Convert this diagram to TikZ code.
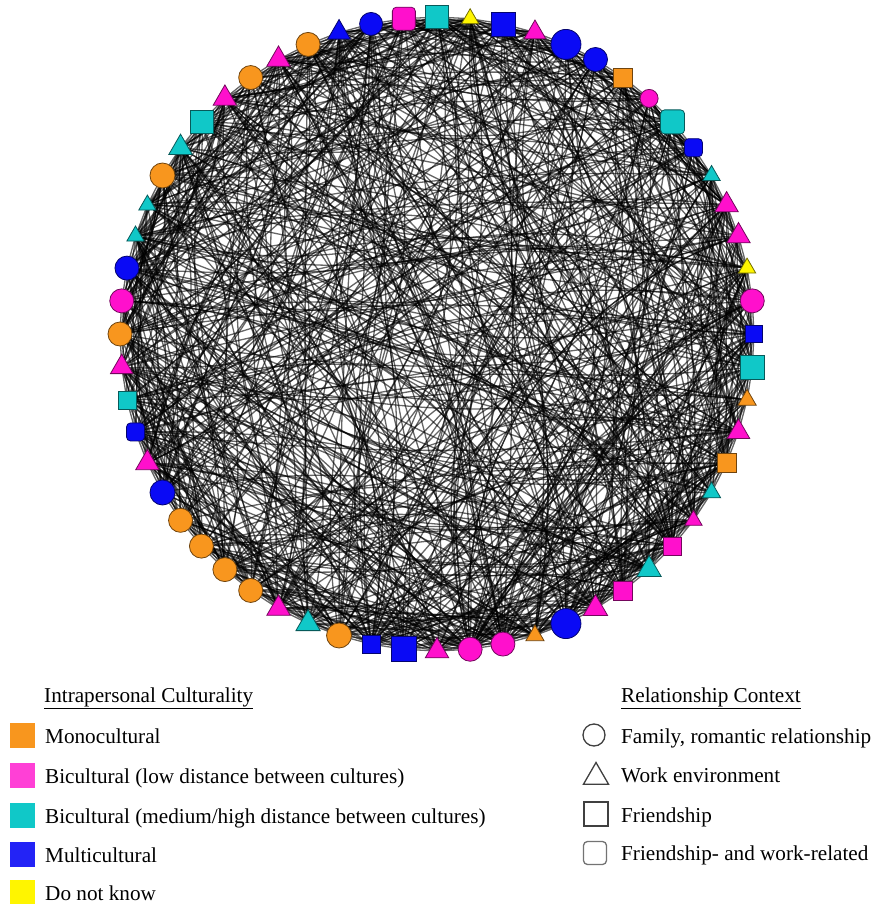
\documentclass[tikz,border=0pt]{standalone}
\usepackage{fontspec}
\setmainfont{Liberation Serif}
\usepackage{tikz}
\usetikzlibrary{shapes.geometric,backgrounds}

\definecolor{orangeC}{HTML}{F8961E}
\definecolor{magC}{HTML}{FF10CC}
\definecolor{cyanC}{HTML}{10C8C8}
\definecolor{blueC}{HTML}{0A0AF5}
\definecolor{yellowC}{HTML}{FFF500}

\begin{document}
\begin{tikzpicture}[x=1pt, y=-1pt, font=\fontsize{21.2}{25}\selectfont]
  \useasboundingbox (0,0) rectangle (877,904);
  \tikzset{circ/.style={circle}, tri/.style={regular polygon, regular polygon sides=3},
    sqr/.style={rectangle}, rsq/.style={rectangle, rounded corners=4pt},
    member/.style={inner sep=0pt, line width=0.8pt},
    link/.style={black, line width=1.3pt, opacity=0.6},
    legsq/.style={rectangle, inner sep=0pt, minimum size=25pt},
    legtext/.style={anchor=base west, inner sep=0pt},
    legshape/.style={draw=black!75, line width=1.3pt, fill=white, inner sep=0pt}}
  % ---- members on the ring: index/shape/colour/size (clockwise from the top) ----
  \foreach \k/\shp/\col/\sz in {
    0/sqr/cyanC/23, 1/tri/yellowC/20, 2/sqr/blueC/24, 3/tri/magC/25, 4/circ/blueC/30,
    5/circ/blueC/24, 6/sqr/orangeC/19, 7/circ/magC/18, 8/rsq/cyanC/24, 9/rsq/blueC/18,
    10/tri/cyanC/20, 11/tri/magC/27, 12/tri/magC/27, 13/tri/yellowC/20, 14/circ/magC/24,
    15/sqr/blueC/17, 16/sqr/cyanC/24, 17/tri/orangeC/21, 18/tri/magC/26, 19/sqr/orangeC/19,
    20/tri/cyanC/21, 21/tri/magC/20, 22/sqr/magC/18, 23/tri/cyanC/28, 24/sqr/magC/19,
    25/tri/magC/28, 26/circ/blueC/30, 27/tri/orangeC/21, 28/circ/magC/24, 29/circ/magC/24,
    30/tri/magC/27, 31/sqr/blueC/25, 32/sqr/blueC/18, 33/circ/orangeC/25, 34/tri/cyanC/28,
    35/tri/magC/27, 36/circ/orangeC/24, 37/circ/orangeC/24, 38/circ/orangeC/24, 39/circ/orangeC/24,
    40/circ/blueC/25, 41/tri/magC/27, 42/rsq/blueC/18, 43/sqr/cyanC/18, 44/tri/magC/26,
    45/circ/orangeC/24, 46/circ/magC/24, 47/circ/blueC/24, 48/tri/cyanC/20, 49/tri/cyanC/20,
    50/circ/orangeC/25, 51/tri/cyanC/27, 52/sqr/cyanC/23, 53/tri/magC/27, 54/circ/orangeC/24,
    55/tri/magC/27, 56/circ/orangeC/24, 57/tri/blueC/26, 58/circ/blueC/23, 59/rsq/magC/23} {
    \node[\shp, member, minimum size=\sz pt, fill=\col, draw=\col!45!black]
      (n\k) at ([shift={(437,334)}] 6*\k-90:317) {};
  }
  % ---- ties (random, fixed seed), kept behind the members and inside the ring ----
  \begin{pgfonlayer}{background}
    \pgfmathsetseed{4711}
    \foreach \k in {0,...,59} {
      \pgfmathtruncatemacro{\m}{mod(\k+1,60)}
      \pgfmathtruncatemacro{\p}{mod(\k+2,60)}
      \pgfmathtruncatemacro{\q}{mod(\k+4,60)}
      \pgfmathtruncatemacro{\r}{mod(\k+7,60)}
      \draw[link] (n\k.center) -- (n\m.center);
      \draw[link] (n\k.center) to[bend right=6] (n\p.center);
      \draw[link] (n\k.center) to[bend right=10] (n\q.center);
      \draw[link] (n\k.center) to[bend right=14] (n\r.center);
    }
    \foreach \e in {1,...,680} {
      \pgfmathtruncatemacro{\a}{random(0,59)}
      \pgfmathtruncatemacro{\d}{random(3,30)}
      \pgfmathtruncatemacro{\b}{mod(\a+\d,60)}
      \pgfmathtruncatemacro{\cp}{min(40,1.4*\d)}
      \pgfmathtruncatemacro{\bb}{random(0,\cp+40)-\cp}
      \draw[link] (n\a.center) to[bend right=\bb] (n\b.center);
    }
  \end{pgfonlayer}
  % ---- legend: intrapersonal culturality ----
  \node[legtext] (cultTitle) at (44,702) {\underline{Intrapersonal Culturality}};
  \foreach \y/\col/\t/\nm in {743/orangeC/{Monocultural}/mono,
    783/magC!80!white/{Bicultural (low distance between cultures)}/bilow,
    823/cyanC/{Bicultural (medium/high distance between cultures)}/bihigh,
    862/blueC!90!white/{Multicultural}/multi, 900/yellowC/{Do not know}/dnk} {
    \node[legsq, fill=\col] (sq\nm) at (22.5,\y-8) {};
    \node[legtext] (lg\nm) at (45,\y) {\t};
  }
  % ---- legend: relationship context ----
  \node[legtext] (ctxTitle) at (621,702) {\underline{Relationship Context}};
  \node[legshape, circle, minimum size=22pt] (lcFam) at (594,735) {};
  \node[legshape, regular polygon, regular polygon sides=3, minimum size=29pt] (lcWork) at (596,777) {};
  \node[legshape, rectangle, minimum size=24pt] (lcFriend) at (596,814) {};
  \node[legshape, rectangle, rounded corners=4pt, draw=black!55, minimum size=23pt] (lcBoth) at (595,853) {};
  \node[legtext] (ltFam) at (621,743) {Family, romantic relationship};
  \node[legtext] (ltWork) at (621,782) {Work environment};
  \node[legtext] (ltFriend) at (621,822) {Friendship};
  \node[legtext] (ltBoth) at (621,860) {Friendship- and work-related};
\end{tikzpicture}
\end{document}
